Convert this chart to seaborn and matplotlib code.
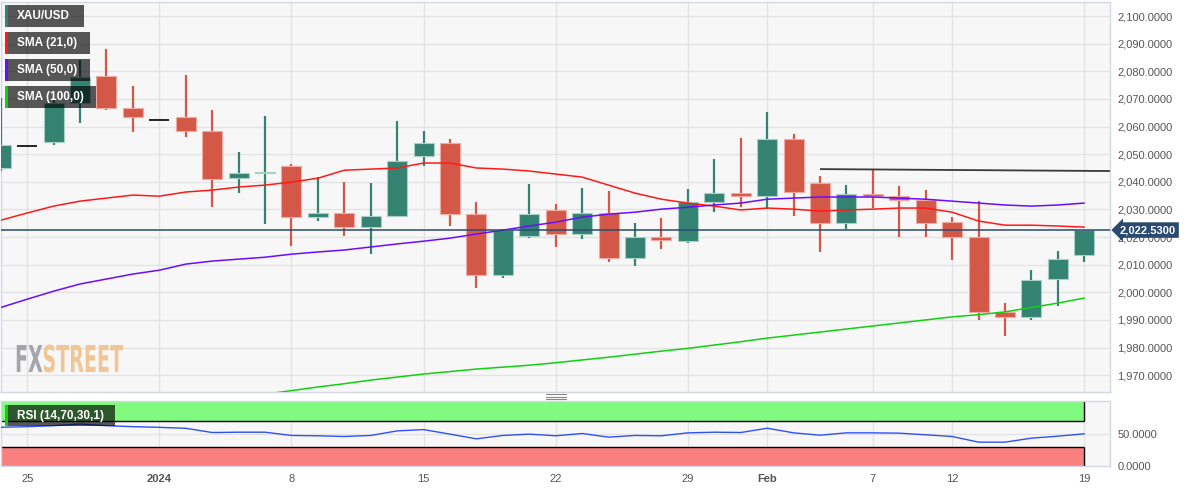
import numpy as np
import pandas as pd
import matplotlib.pyplot as plt
import seaborn as sns
from matplotlib.patches import Rectangle, PathPatch
from matplotlib.lines import Line2D
from matplotlib.textpath import TextPath
from matplotlib.font_manager import FontProperties
from matplotlib.transforms import Affine2D

# XAU/USD daily candles, Dec 22 -> Feb 19 (holidays kept as flat candles)
dates = ['Dec 22', 'Dec 25', 'Dec 26', 'Dec 27', 'Dec 28', 'Dec 29',
         'Jan 1', 'Jan 2', 'Jan 3', 'Jan 4', 'Jan 5',
         'Jan 8', 'Jan 9', 'Jan 10', 'Jan 11', 'Jan 12',
         'Jan 15', 'Jan 16', 'Jan 17', 'Jan 18', 'Jan 19',
         'Jan 22', 'Jan 23', 'Jan 24', 'Jan 25', 'Jan 26',
         'Jan 29', 'Jan 30', 'Jan 31', 'Feb 1', 'Feb 2',
         'Feb 5', 'Feb 6', 'Feb 7', 'Feb 8', 'Feb 9',
         'Feb 12', 'Feb 13', 'Feb 14', 'Feb 15', 'Feb 16', 'Feb 19']

opens = [2045.0, 2052.9, 2054.4, 2068.5, 2078.3, 2066.7,
         2062.3, 2063.4, 2058.4, 2041.4, 2043.3,
         2045.7, 2027.2, 2028.7, 2023.6, 2027.6,
         2049.3, 2054.0, 2028.3, 2006.2, 2020.3,
         2029.8, 2021.1, 2028.7, 2012.4, 2020.0,
         2018.5, 2032.7, 2036.0, 2034.8, 2055.5,
         2039.5, 2025.1, 2035.6, 2034.8, 2033.4,
         2025.4, 2020.0, 1992.8, 1991.0, 2004.8, 2013.5]
highs = [2070.3, 2052.9, 2069.5, 2084.1, 2088.1, 2074.7,
         2062.3, 2078.6, 2066.0, 2050.8, 2063.8,
         2046.4, 2041.7, 2039.9, 2039.5, 2062.0,
         2058.4, 2055.5, 2032.7, 2023.0, 2039.2,
         2031.9, 2037.7, 2036.6, 2025.1, 2026.9,
         2037.4, 2048.2, 2055.8, 2065.2, 2057.3,
         2042.1, 2038.8, 2044.6, 2038.5, 2037.0,
         2027.2, 2033.0, 1996.1, 2008.0, 2014.9, 2022.53]
lows = [2044.0, 2052.9, 2053.3, 2061.3, 2066.0, 2058.0,
        2062.3, 2056.2, 2030.8, 2035.9, 2024.7,
        2016.7, 2025.8, 2020.3, 2013.8, 2027.6,
        2045.7, 2024.0, 2001.5, 2005.1, 2019.5,
        2016.4, 2019.3, 2010.9, 2009.5, 2015.6,
        2018.0, 2029.0, 2030.8, 2030.1, 2027.6,
        2014.6, 2022.9, 2030.5, 2020.0, 2020.0,
        2011.7, 1990.0, 1984.1, 1990.0, 1995.0, 2010.9]
closes = [2053.3, 2052.9, 2068.5, 2077.9, 2066.7, 2063.4,
          2062.3, 2058.4, 2041.0, 2043.2, 2043.6,
          2027.2, 2028.7, 2023.6, 2027.6, 2047.5,
          2054.0, 2028.3, 2006.2, 2022.5, 2028.3,
          2021.1, 2028.7, 2012.4, 2020.0, 2018.9,
          2032.7, 2035.9, 2035.0, 2055.5, 2036.3,
          2025.1, 2035.6, 2034.8, 2033.4, 2025.1,
          2020.0, 1992.8, 1991.0, 2004.4, 2012.0, 2022.53]

sma21 = [2026.1, 2028.7, 2031.2, 2033.0, 2034.1, 2035.2,
         2034.8, 2036.3, 2037.0, 2038.1, 2038.8,
         2039.9, 2041.3, 2044.2, 2044.6, 2045.0,
         2046.8, 2046.8, 2045.0, 2044.6, 2043.9,
         2042.8, 2041.7, 2038.8, 2035.9, 2033.7,
         2032.3, 2031.2, 2029.8, 2030.5, 2030.1,
         2029.4, 2029.8, 2030.1, 2030.5, 2030.5,
         2029.0, 2025.8, 2024.3, 2024.3, 2024.0, 2023.6]
sma50 = [1994.5, 1997.5, 2000.4, 2003.0, 2004.8, 2006.6,
         2008.0, 2010.2, 2011.3, 2012.0, 2012.7,
         2013.8, 2014.6, 2015.3, 2016.4, 2017.5,
         2018.5, 2019.6, 2021.1, 2022.5, 2024.0,
         2025.4, 2027.2, 2028.3, 2029.0, 2030.1,
         2030.8, 2031.6, 2032.3, 2033.7, 2034.1,
         2034.5, 2034.5, 2034.5, 2034.1, 2033.7,
         2033.0, 2032.3, 2031.6, 2031.2, 2031.6, 2032.3]
sma100 = [1950.1, 1951.2, 1952.6, 1953.7, 1955.2, 1956.3,
          1957.7, 1959.2, 1960.6, 1961.9, 1963.1,
          1964.4, 1965.7, 1966.9, 1968.2, 1969.3,
          1970.4, 1971.3, 1972.2, 1972.9, 1973.6,
          1974.5, 1975.5, 1976.5, 1977.6, 1978.7,
          1979.7, 1980.9, 1982.1, 1983.4, 1984.5,
          1985.6, 1986.7, 1987.8, 1988.9, 1990.0,
          1991.1, 1991.9, 1992.9, 1994.5, 1996.1, 1997.9]
rsi = [59.6, 60.5, 62.0, 64.5, 62.0, 60.5,
       59.5, 58.0, 51.5, 52.0, 52.0,
       47.0, 46.5, 45.4, 47.0, 54.0,
       56.0, 49.0, 41.8, 47.0, 49.0,
       46.5, 50.0, 44.4, 47.0, 46.5,
       51.0, 52.0, 51.5, 58.1, 51.0,
       47.4, 51.0, 51.0, 50.5, 48.0,
       45.4, 36.7, 36.7, 42.8, 45.9, 49.5]

tick_dates = ['Dec 25', 'Jan 1', 'Jan 8', 'Jan 15', 'Jan 22', 'Jan 29',
              'Feb 1', 'Feb 7', 'Feb 12', 'Feb 19']
tick_labels = ['25', '2024', '8', '15', '22', '29', 'Feb', '7', '12', '19']
bold_ticks = ['2024', 'Feb']

last_price = 2022.53
resistance_from = 'Feb 5'
resistance = [2044.6, 2043.9]

df = pd.DataFrame({'date': dates, 'open': opens, 'high': highs,
                   'low': lows, 'close': closes,
                   'SMA (21,0)': sma21, 'SMA (50,0)': sma50,
                   'SMA (100,0)': sma100, 'RSI': rsi})
df['x'] = np.arange(len(df)) - 1
pos = dict(zip(df['date'], df['x']))

sns.set_style('white')
plt.rcParams['font.family'] = ['Liberation Sans', 'DejaVu Sans']

W, H = 1194, 492
fig = plt.figure(figsize=(W / 100, H / 100), dpi=100)
fig.patch.set_facecolor('white')

ax = fig.add_axes([0.001, 1 - 392 / H, 1109 / W, 390 / H])
ax_rsi = fig.add_axes([0.001, 1 - 466 / H, 1109 / W, 65 / H])

GREEN = '#338272'
RED = '#d45848'
GREEN_EDGE = '#a9d0c7'
RED_EDGE = '#f2aaa0'
GRID = '#e3e3e3'
BORDER = '#d3d8e6'
LABEL = '#555555'

xmin, xmax = -0.983, 40.98
for a in (ax, ax_rsi):
    a.set_facecolor('#f7f7f7')
    a.set_xlim(xmin, xmax)
    a.set_xticks([pos[d] for d in tick_dates])
    a.grid(True, color=GRID, linewidth=1)
    a.set_axisbelow(True)
    for s in a.spines.values():
        s.set_color(BORDER)
        s.set_linewidth(1)
    a.yaxis.tick_right()
    a.tick_params(length=0, labelsize=8, labelcolor=LABEL, pad=5)

# price panel
ax.set_ylim(1963.9, 2105.1)
ax.set_yticks(np.arange(1970, 2101, 10))
ax.set_yticklabels([f'{v:,.4f}' for v in np.arange(1970, 2101, 10)])
ax.tick_params(axis='x', labelbottom=False)

body_w = 0.76
for _, r in df.iterrows():
    if r['high'] == r['low']:
        ax.hlines(r['close'], r['x'] - body_w / 2, r['x'] + body_w / 2,
                  color='black', linewidth=1.2, zorder=3)
        continue
    up = r['close'] >= r['open']
    c = GREEN if up else RED
    e = GREEN_EDGE if up else RED_EDGE
    ax.vlines(r['x'], r['low'], r['high'], color=c, linewidth=1.6, zorder=3)
    h = max(abs(r['close'] - r['open']), 0.35)
    ax.bar(r['x'], h, bottom=min(r['open'], r['close']), width=body_w,
           color=c, edgecolor=e, linewidth=0.8, zorder=4)

sma_long = df.melt(id_vars='x', value_vars=['SMA (21,0)', 'SMA (50,0)', 'SMA (100,0)'],
                   var_name='sma', value_name='value')
sma_colors = {'SMA (21,0)': '#ff1a1a', 'SMA (50,0)': '#6a0dff', 'SMA (100,0)': '#11d011'}
sns.lineplot(data=sma_long, x='x', y='value', hue='sma', palette=sma_colors,
             linewidth=1.1, legend=False, ax=ax, zorder=5)
ax.set_xlabel('')
ax.set_ylabel('')

ax.axhline(last_price, color='#2a4a70', linewidth=1.1, zorder=6)
ax.plot([pos[resistance_from], xmax], resistance, color='#3a3a3a',
        linewidth=1.3, zorder=6, solid_capstyle='butt')
ax.annotate(f'{last_price:,.4f}', xy=(1.0, last_price),
            xycoords=('axes fraction', 'data'), xytext=(7, 0),
            textcoords='offset points', ha='left', va='center',
            fontsize=8, fontweight='bold', color='white', annotation_clip=False,
            bbox=dict(boxstyle='larrow,pad=0.25', fc='#2a4a70', ec='none'))

# RSI panel
ax_rsi.set_ylim(0, 100)
ax_rsi.set_yticks([0, 50])
ax_rsi.set_yticklabels(['0.0000', '50.0000'])
ax_rsi.grid(False, axis='y')
ax_rsi.axhline(50, color=GRID, linewidth=1, zorder=0)
ax_rsi.set_xticklabels(tick_labels)
for t in ax_rsi.get_xticklabels():
    if t.get_text() in bold_ticks:
        t.set_fontweight('bold')
ax_rsi.tick_params(axis='x', pad=6)
last_x = df['x'].iloc[-1]
ax_rsi.fill_between([xmin, last_x], 70, 100, color='#7afc7a', alpha=0.95, zorder=1, linewidth=0)
ax_rsi.fill_between([xmin, last_x], 0, 30, color='#fb7a7a', alpha=0.95, zorder=1, linewidth=0)
ax_rsi.hlines([70, 30], xmin, last_x, color='black', linewidth=1, zorder=2)
ax_rsi.vlines(last_x, 70, 100, color='black', linewidth=1, zorder=2)
ax_rsi.vlines(last_x, 0, 30, color='black', linewidth=1, zorder=2)
sns.lineplot(data=df, x='x', y='RSI', color='#3050f5', linewidth=1, ax=ax_rsi, zorder=3)
ax_rsi.set_xlabel('')
ax_rsi.set_ylabel('')


def fig_box(x, y, w, h, bar_color, label):
    fig.add_artist(Rectangle((x / W, 1 - (y + h) / H), w / W, h / H,
                             transform=fig.transFigure, facecolor='black',
                             alpha=0.65, edgecolor='none', zorder=10))
    fig.add_artist(Rectangle((x / W, 1 - (y + h) / H), 2.5 / W, h / H,
                             transform=fig.transFigure, facecolor=bar_color,
                             edgecolor='none', zorder=11))
    fig.text((x + 12) / W, 1 - (y + h / 2) / H, label, color='white',
             fontsize=8.5, fontweight='bold', ha='left', va='center', zorder=12)


fig_box(5, 5, 79, 22, GREEN, 'XAU/USD')
fig_box(5, 32, 85, 22, '#ff1a1a', 'SMA (21,0)')
fig_box(5, 59, 85, 22, '#6a0dff', 'SMA (50,0)')
fig_box(5, 86, 91, 22, '#11d011', 'SMA (100,0)')
fig_box(5, 405, 110, 21, '#11d011', 'RSI (14,70,30,1)')

# panel splitter handle
for yy in (394, 396.5, 399):
    fig.add_artist(Line2D([546 / W, 566 / W], [1 - yy / H, 1 - yy / H],
                          transform=fig.transFigure, color='#888888', linewidth=0.8))

# FXSTREET watermark
fp = FontProperties(family='DejaVu Sans', weight='bold')
p_fx = TextPath((0, 0), 'FX', size=1, prop=fp)
p_st = TextPath((0, 0), 'STREET', size=1, prop=fp)
w_fx = p_fx.get_extents().x1
w_st = p_st.get_extents().x1
sx = 108 / (w_fx + w_st)
sy = 27 / 0.729
base_x, base_y = 15, H - 372
fig.add_artist(PathPatch(Affine2D().scale(sx, sy).translate(base_x, base_y).transform_path(p_fx),
                         transform=None, facecolor='#9b9ba3', edgecolor='none', alpha=0.9))
fig.add_artist(PathPatch(Affine2D().scale(sx, sy).translate(base_x + w_fx * sx, base_y).transform_path(p_st),
                         transform=None, facecolor='#f1c18a', edgecolor='none', alpha=0.9))

fig.savefig('out.png', dpi=100, facecolor='white')
